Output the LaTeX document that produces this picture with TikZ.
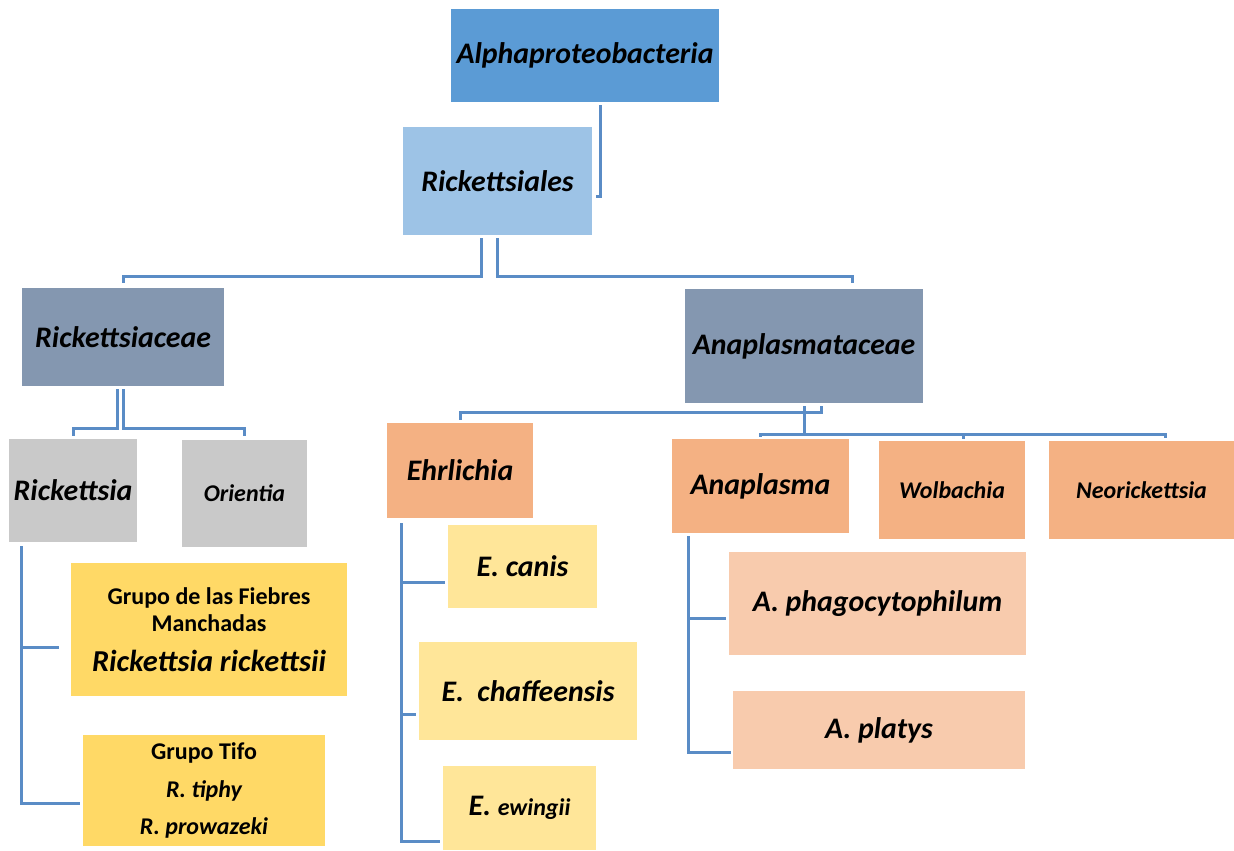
\documentclass[tikz,border=0pt]{standalone}
\usepackage{fontspec}
\setmainfont{Carlito}
\usepackage{xcolor}
\usepackage{tikz}
\usetikzlibrary{positioning}
\definecolor{alphablue}{HTML}{5B9BD5}
\definecolor{orderblue}{HTML}{9DC3E6}
\definecolor{famgray}{HTML}{8497B0}
\definecolor{genusgray}{HTML}{C9C9C9}
\definecolor{genusorange}{HTML}{F4B183}
\definecolor{groupyellow}{HTML}{FFD966}
\definecolor{specyellow}{HTML}{FFE699}
\definecolor{specpeach}{HTML}{F8CBAD}
\definecolor{linkblue}{HTML}{5A8CC6}
\tikzset{
    taxon/.style 2 args={inner sep=0pt, align=center, minimum width=#1*0.5pt, minimum height=#2*0.5pt},
    bigname/.style={font=\bfseries\itshape\fontsize{14.9}{17}\selectfont},
    smallname/.style={font=\bfseries\itshape\fontsize{12}{14}\selectfont},
    link/.style={draw=linkblue, line width=1.5pt}
}
\newcommand{\grp}{\bfseries\upshape\fontsize{12}{14}\selectfont}
\newcommand{\sml}{\bfseries\itshape\fontsize{12}{14}\selectfont}

\begin{document}
\begin{tikzpicture}[x=0.5pt, y=-0.5pt]
    \useasboundingbox (0,0) rectangle (1234,850);
    % Class and order
    \node[taxon={268}{93}, fill=alphablue, bigname] (alpha) at (585,55.5) {Alphaproteobacteria};
    \node[taxon={189}{108}, fill=orderblue, bigname] (order) at (497.5,181) {Rickettsiales};
    % Families
    \node[taxon={202}{98}, fill=famgray, bigname] (rfam) at (123,337) {Rickettsiaceae};
    \node[taxon={238}{114}, fill=famgray, bigname] (afam) at (804,346) {Anaplasmataceae};
    % Genera
    \node[taxon={128}{103}, fill=genusgray, bigname] (rick) at (73,490.5) {Rickettsia};
    \node[taxon={125}{107}, fill=genusgray, smallname] (orie) at (244.5,493.5) {Orientia};
    \node[taxon={146}{95}, fill=genusorange, bigname] (ehrl) at (460,470.5) {Ehrlichia};
    \node[taxon={177}{94}, fill=genusorange, bigname] (anap) at (760.5,486) {Anaplasma};
    \node[taxon={146}{98}, fill=genusorange, smallname] (wolb) at (952,490) {Wolbachia};
    \node[taxon={185}{98}, fill=genusorange, smallname] (neor) at (1141.5,490) {Neorickettsia};
    % Groups and species
    \node[taxon={276}{133}, fill=groupyellow] (spot) at (209,629.5)
        {{\grp Grupo de las Fiebres}\\[1.5pt]{\grp Manchadas}\\[8pt]{\bfseries\itshape\fontsize{15.2}{17}\selectfont Rickettsia rickettsii}};
    \node[taxon={242}{111}, fill=groupyellow] (typh) at (204,790.5)
        {{\grp Grupo Tifo}\\[7pt]{\sml R. tiphy}\\[6.5pt]{\sml R. prowazeki}};
    \node[taxon={149}{83}, fill=specyellow, bigname] (ecan) at (522.5,566.5) {E. canis};
    \node[taxon={218}{98}, fill=specyellow, bigname] (echa) at (528,691) {E.~~chaffeensis};
    \node[taxon={153}{84}, fill=specyellow, bigname] (ewin) at (519.5,808) {E. {\sml ewingii}};
    \node[taxon={297}{103}, fill=specpeach, bigname] (apha) at (877.5,603.5) {A. phagocytophilum};
    \node[taxon={292}{78}, fill=specpeach, bigname] (apla) at (879,730) {A. platys};
    % Connectors
    \draw[link] ([xshift=7.5pt,yshift=-1.5pt]alpha.south) |- ([xshift=2pt,yshift=-7.5pt]order.east);
    \draw[link] ([xshift=-8pt,yshift=-1.5pt]order.south) -- ++(0,38) -| ([yshift=2.5pt]rfam.north);
    \draw[link] ([yshift=-1.5pt]order.south) -- ++(0,38) -| ([xshift=24pt,yshift=3pt]afam.north);
    \draw[link] ([xshift=-3pt,yshift=-1.5pt]rfam.south) -- ++(0,39) -| ([yshift=1.5pt]rick.north);
    \draw[link] ([yshift=-1.5pt]rfam.south) -- ++(0,39) -| ([yshift=2pt]orie.north);
    \draw[link] ([xshift=8.5pt,yshift=-1.5pt]afam.south) -- ++(0,6) -| ([yshift=1.5pt]ehrl.north);
    \draw[link] ([yshift=-1.5pt]afam.south) -- ++(0,28) -| ([yshift=1pt]anap.north);
    \draw[link] ([yshift=-1.5pt]afam.south) -- ++(0,28) -| ([xshift=5.5pt,yshift=1pt]wolb.north);
    \draw[link] ([yshift=-1.5pt]afam.south) -- ++(0,28) -| ([xshift=11.75pt,yshift=1.5pt]neor.north);
    \draw[link] ([xshift=-26pt,yshift=-2pt]rick.south) |- ([xshift=-6pt,yshift=-8.75pt]spot.west);
    \draw[link] ([xshift=-26pt,yshift=-2pt]rick.south) |- ([xshift=-1.5pt,yshift=-6.25pt]typh.west);
    \draw[link] ([xshift=-29.5pt,yshift=-2.5pt]ehrl.south) |- ([xshift=-1.5pt,yshift=-7.75pt]ecan.west);
    \draw[link] ([xshift=-29.5pt,yshift=-2.5pt]ehrl.south) |- ([xshift=-1.5pt,yshift=-11.5pt]echa.west);
    \draw[link] ([xshift=-29.5pt,yshift=-2.5pt]ehrl.south) |- ([xshift=-1.5pt,yshift=-16.5pt]ewin.west);
    \draw[link] ([xshift=-36.25pt,yshift=-1.5pt]anap.south) |- ([xshift=-1.5pt,yshift=-7.25pt]apha.west);
    \draw[link] ([xshift=-36.25pt,yshift=-1.5pt]anap.south) |- ([xshift=-1pt,yshift=-11pt]apla.west);
\end{tikzpicture}
\end{document}
